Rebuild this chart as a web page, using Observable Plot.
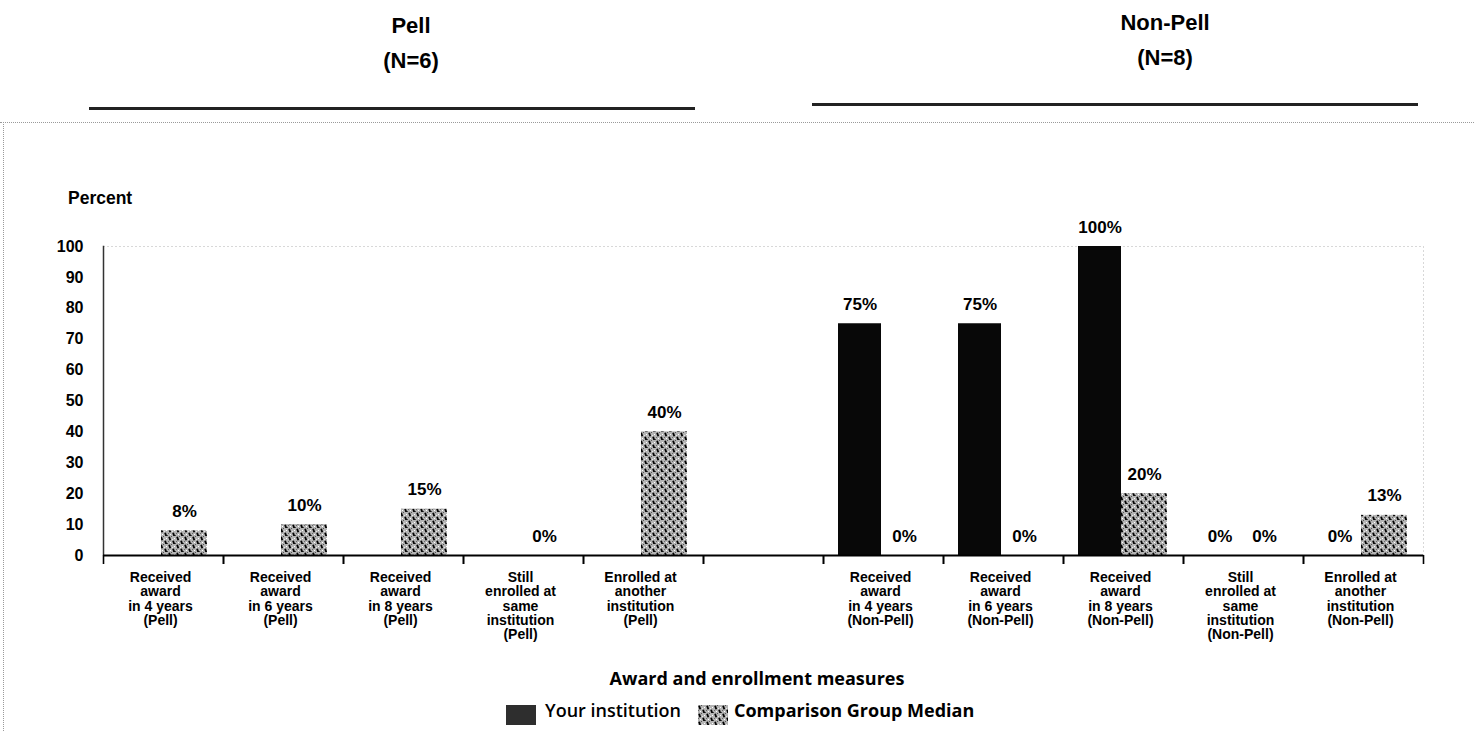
<!DOCTYPE html>
<html>
<head>
<meta charset="utf-8">
<script src="https://cdn.jsdelivr.net/npm/d3@7"></script>
<script src="https://cdn.jsdelivr.net/npm/@observablehq/plot@0.6"></script>
<style>
  body { margin: 0; background: #fff; }
  #page { position: relative; width: 1474px; height: 731px; overflow: hidden;
          font-family: "Liberation Sans", Arial, sans-serif; font-weight: bold; color: #000; }
  .abs { position: absolute; white-space: nowrap; }
  .title { font-size: 22px; line-height: 35px; text-align: center; width: 240px; }
  .rule { position: absolute; height: 3px; background: #222; }
  .lab { font-family: "Open Sans", sans-serif; font-weight: 700; font-size: 18px; line-height: 18px; }
</style>
</head>
<body>
<div id="page">
  <svg width="0" height="0" style="position:absolute">
    <defs>
      <pattern id="hatch" width="8" height="8" patternUnits="userSpaceOnUse">
        <rect width="8" height="8" fill="#b4b4b4"/>
        <rect x="3" y="0" width="1" height="1" fill="#555"/>
        <rect x="6" y="2" width="1" height="1" fill="#fff"/>
        <rect x="0" y="5" width="1" height="1" fill="#666"/>
        <rect x="2" y="6" width="1" height="1" fill="#fff"/>
        <rect x="7" y="7" width="1" height="1" fill="#444"/>
        <rect x="4" y="3" width="1" height="1" fill="#e8e8e8"/>
        <path d="M1.1 0.8 L2.3 4.2" stroke="#000" stroke-width="1.8"/>
        <path d="M5.1 4.8 L6.3 8.2" stroke="#000" stroke-width="1.8"/>
      </pattern>
    </defs>
  </svg>

  <div class="abs title" style="left:291px; top:8px;">Pell<br>(N=6)</div>
  <div class="abs title" style="left:1045px; top:5px;">Non-Pell<br>(N=8)</div>
  <div class="rule" style="left:89px; width:606px; top:107px;"></div>
  <div class="rule" style="left:812px; width:606px; top:103px;"></div>
  <div class="abs" style="left:0; top:122px; width:1474px; border-top:1px dotted #9a9a9a;"></div>
  <div class="abs" style="left:3px; top:122px; height:609px; border-left:1px dotted #9a9a9a;"></div>

  <div id="chart" class="abs" style="left:0; top:0;"></div>

  <div class="abs" style="left:68px; top:190px; font-size:17.5px; line-height:17.5px;">Percent</div>
  <div class="abs lab" style="left:607px; width:300px; text-align:center; top:669px;">Award and enrollment measures</div>

  <div class="abs" style="left:506px; top:705px; width:30px; height:20px; background:#2e2e2e;"></div>
  <div class="abs lab" style="left:545px; top:701px; font-weight:600;">Your institution</div>
  <svg class="abs" style="left:698px; top:705px;" width="30" height="20"><rect width="30" height="20" fill="url(#hatch)"/></svg>
  <div class="abs lab" style="left:734px; top:701px;">Comparison Group Median</div>
</div>

<script>
// ---- data ----
const categories = [
  "Received\naward\nin 4 years\n(Pell)",
  "Received\naward\nin 6 years\n(Pell)",
  "Received\naward\nin 8 years\n(Pell)",
  "Still\nenrolled at\nsame\ninstitution\n(Pell)",
  "Enrolled at\nanother\ninstitution\n(Pell)",
  " ",
  "Received\naward\nin 4 years\n(Non-Pell)",
  "Received\naward\nin 6 years\n(Non-Pell)",
  "Received\naward\nin 8 years\n(Non-Pell)",
  "Still\nenrolled at\nsame\ninstitution\n(Non-Pell)",
  "Enrolled at\nanother\ninstitution\n(Non-Pell)"
];
const yourInstitution  = [null, null, null, null, null, null, 75, 75, 100, 0, 0];
const comparisonMedian = [8, 10, 15, 0, 40, null, 0, 0, 20, 0, 13];
const yTicks = [0, 10, 20, 30, 40, 50, 60, 70, 80, 90, 100];

const yours = categories.map((c, i) => ({category: c, value: yourInstitution[i]})).filter(d => d.value != null);
const comps = categories.map((c, i) => ({category: c, value: comparisonMedian[i]})).filter(d => d.value != null);

const W = 1474, ML = 103, MR = 51;
const step = (W - ML - MR) / categories.length;
const font = "'Liberation Sans', Arial, sans-serif";

const chart = Plot.plot({
  width: W, height: 731,
  marginLeft: ML, marginRight: MR, marginTop: 246, marginBottom: 176,
  x: {type: "band", domain: categories, padding: 0, axis: null},
  y: {domain: [0, 100], axis: null},
  style: {fontFamily: font, fontWeight: "bold", color: "#000", background: "transparent", overflow: "visible"},
  marks: [
    Plot.frame({stroke: "#b0b0b0", strokeDasharray: "1,3"}),
    Plot.frame({anchor: "left", stroke: "#333", strokeWidth: 1.5, strokeDasharray: "2,1"}),
    Plot.axisY({ticks: yTicks, tickSize: 0, tickPadding: 20, fontSize: 16, fontWeight: "bold", label: null}),
    Plot.barY(yours, {x: "category", y: "value", fill: "#080808", insetLeft: 15, insetRight: 62}),
    Plot.barY(comps, {x: "category", y: "value", fill: "url(#hatch)", insetLeft: 58, insetRight: 16}),
    Plot.ruleY([0], {stroke: "#000", strokeWidth: 2}),
    Plot.axisX({ticks: categories, tickFormat: () => "", tickSize: 9, strokeWidth: 1.6, dx: -step / 2, label: null}),
    Plot.axisX({ticks: categories, tickFormat: () => "", tickSize: 9, strokeWidth: 1.6, dx: step / 2, label: null}),
    Plot.axisX({ticks: categories, tickSize: 0, tickPadding: 16, fontSize: 14, fontWeight: "bold",
                lineHeight: 1.03, dx: -3, label: null}),
    Plot.text(yours, {x: "category", y: "value", text: d => d.value + "%", dx: -23.5, dy: -14,
                      lineAnchor: "bottom", fontSize: 17, fontWeight: "bold"}),
    Plot.text(comps, {x: "category", y: "value", text: d => d.value + "%", dx: 21, dy: -14,
                      lineAnchor: "bottom", fontSize: 17, fontWeight: "bold"})
  ]
});
document.getElementById("chart").appendChild(chart);
</script>
</body>
</html>
